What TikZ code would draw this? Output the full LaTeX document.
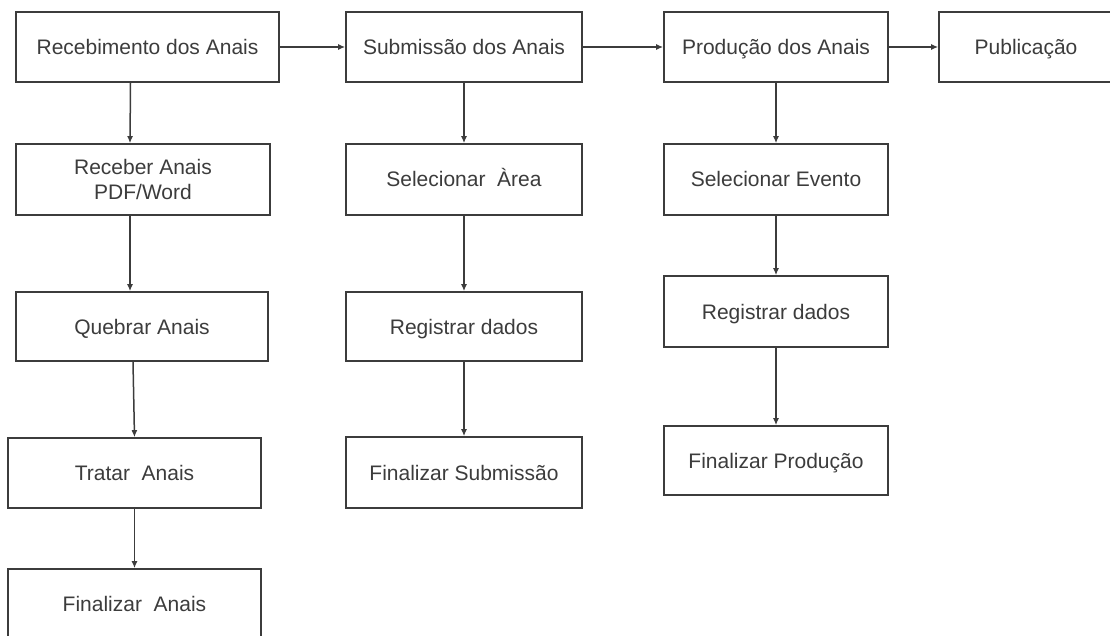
\documentclass[tikz,border=0pt]{standalone}
\usepackage{fontspec}
\setmainfont{Liberation Sans}
\usepackage{xcolor}
\usetikzlibrary{arrows.meta}
\definecolor{flowgray}{RGB}{60,60,60}

\begin{document}
\begin{tikzpicture}[x=1pt, y=-1pt,
  box/.style={rectangle, draw=flowgray, line width=1.6pt, fill=white, text=flowgray,
    font=\fontsize{21}{25}\selectfont, align=center, inner sep=0pt,
    minimum height=70pt},
  lbox/.style={box, text height=19pt, text depth=4pt},
  flow/.style={draw=flowgray, line width=1.5pt, -{Latex[length=7pt,width=6pt]}}]
  \useasboundingbox (0,0) rectangle (1110,636);
  \clip (0,0) rectangle (1110,636);
  % Nodes
  \node[lbox, minimum width=263pt] (rec) at (147.5,47) {Recebimento dos Anais};
  \node[lbox, minimum width=236pt] (sub) at (464,47) {Submissão dos Anais};
  \node[lbox, minimum width=224pt] (prod) at (776,47) {Produção dos Anais};
  \node[lbox, minimum width=174pt] (pub) at (1026,47) {Publicação};

  \node[box, minimum width=254pt, minimum height=71pt] (recpdf) at (143,179.5) {Receber Anais\\PDF/Word};
  \node[lbox, minimum width=252pt, minimum height=69pt] (quebrar) at (142,326.5) {Quebrar Anais};
  \node[lbox, minimum width=253pt] (tratar) at (134.5,473) {Tratar~ Anais};
  \node[lbox, minimum width=253pt] (finanais) at (134.5,604) {Finalizar~ Anais};

  \node[lbox, minimum width=236pt, minimum height=71pt] (selarea) at (464,179.5) {Selecionar~ Àrea};
  \node[lbox, minimum width=236pt, minimum height=69pt] (regsub) at (464,326.5) {Registrar dados};
  \node[lbox, minimum width=236pt, minimum height=71pt] (finsub) at (464,472.5) {Finalizar Submissão};

  \node[lbox, minimum width=224pt, minimum height=71pt] (selevt) at (776,179.5) {Selecionar Evento};
  \node[lbox, minimum width=224pt, minimum height=71pt] (regprod) at (776,311.5) {Registrar dados};
  \node[lbox, minimum width=224pt, minimum height=69pt] (finprod) at (776,460.5) {Finalizar Produção};

  % Edges
  \draw[flow] (rec) -- (sub);
  \draw[flow] (sub) -- (prod);
  \draw[flow] (prod) -- (pub);

  \draw[flow] ([xshift=-17pt]rec.south) -- ([xshift=-13pt]recpdf.north);
  \draw[flow] ([xshift=-13pt]recpdf.south) -- ([xshift=-12pt]quebrar.north);
  \draw[flow] ([xshift=-9pt]quebrar.south) -- (tratar.north);
  \draw[flow] (tratar) -- (finanais);

  \draw[flow] (sub) -- (selarea);
  \draw[flow] (selarea) -- (regsub);
  \draw[flow] (regsub) -- (finsub);

  \draw[flow] (prod) -- (selevt);
  \draw[flow] (selevt) -- (regprod);
  \draw[flow] (regprod) -- (finprod);
\end{tikzpicture}
\end{document}
